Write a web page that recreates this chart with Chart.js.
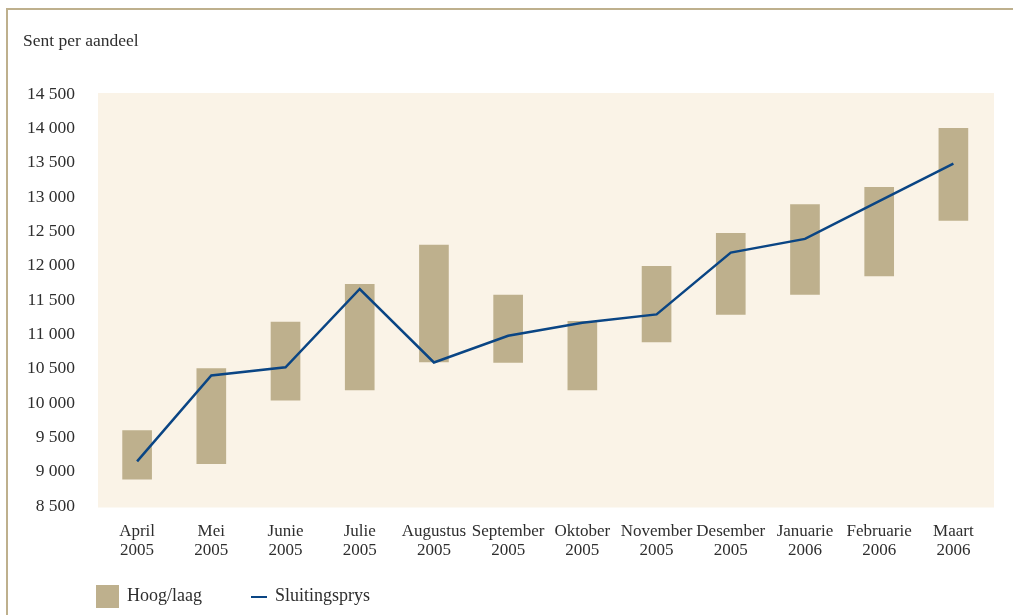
<!DOCTYPE html>
<html>
<head>
<meta charset="utf-8">
<script src="https://cdn.jsdelivr.net/npm/chart.js@4/dist/chart.umd.min.js"></script>
<style>
  html, body { margin: 0; padding: 0; background: #ffffff; }
  #wrap { position: relative; width: 1013px; height: 615px; }
</style>
</head>
<body>
<div id="wrap"><canvas id="c" width="1013" height="615"></canvas></div>
<script>
const months = [
  ["April", "2005"], ["Mei", "2005"], ["Junie", "2005"], ["Julie", "2005"],
  ["Augustus", "2005"], ["September", "2005"], ["Oktober", "2005"], ["November", "2005"],
  ["Desember", "2005"], ["Januarie", "2006"], ["Februarie", "2006"], ["Maart", "2006"]
];
const lows   = [8890, 9115, 10040, 10190, 10600, 10590, 10190, 10890, 11290, 11580, 11850, 12660];
const highs  = [9600, 10500, 11180, 11730, 12300, 11570, 11190, 11990, 12470, 12890, 13140, 14000];
const closes = [9150, 10400, 10520, 11660, 10590, 10980, 11170, 11290, 12190, 12390, 12940, 13485];
const yTicks = [8500, 9000, 9500, 10000, 10500, 11000, 11500, 12000, 12500, 13000, 13500, 14000, 14500];

const TAN = '#BEB08D';
const CREAM = '#FAF3E7';
const BLUE = '#0A4584';
const TEXT = '#2E2E2E';
const FONT = "'Liberation Serif', 'DejaVu Serif', serif";

const decor = {
  id: 'decor',
  beforeDraw(chart) {
    const ctx = chart.ctx, a = chart.chartArea;
    ctx.save();
    ctx.fillStyle = CREAM;
    ctx.fillRect(a.left - 2, a.top - 1, (a.right + 3.5) - (a.left - 2), (a.bottom + 1.5) - (a.top - 1));
    ctx.restore();
  },
  afterDraw(chart) {
    const ctx = chart.ctx;
    ctx.save();
    // frame lines
    ctx.strokeStyle = TAN;
    ctx.lineWidth = 2;
    ctx.beginPath();
    ctx.moveTo(1013, 9);
    ctx.lineTo(7, 9);
    ctx.lineTo(7, 615);
    ctx.stroke();
    // title
    ctx.fillStyle = TEXT;
    ctx.font = "17.5px " + FONT;
    ctx.textBaseline = 'alphabetic';
    ctx.textAlign = 'left';
    ctx.fillText('Sent per aandeel', 23, 46);
    // legend
    ctx.fillStyle = TAN;
    ctx.fillRect(96, 585, 23, 23);
    ctx.fillStyle = TEXT;
    ctx.font = "18px " + FONT;
    ctx.textBaseline = 'middle';
    ctx.fillText(chart.data.datasets[1].label, 127, 596.5);
    ctx.strokeStyle = BLUE;
    ctx.lineWidth = 2;
    ctx.beginPath();
    ctx.moveTo(251, 597);
    ctx.lineTo(267, 597);
    ctx.stroke();
    ctx.fillStyle = TEXT;
    ctx.fillText(chart.data.datasets[0].label, 275, 596.5);
    ctx.restore();
  }
};

new Chart(document.getElementById('c'), {
  data: {
    labels: months,
    datasets: [
      {
        type: 'line',
        label: 'Sluitingsprys',
        data: closes,
        borderColor: BLUE,
        borderWidth: 2.5,
        pointRadius: 0,
        tension: 0,
        order: 0
      },
      {
        type: 'bar',
        label: 'Hoog/laag',
        data: lows.map((l, i) => [l, highs[i]]),
        backgroundColor: TAN,
        borderWidth: 0,
        barThickness: 29,
        order: 1
      }
    ]
  },
  options: {
    responsive: false,
    animation: false,
    layout: { padding: { left: 0, top: 94, right: 22.5, bottom: 0 } },
    plugins: {
      legend: { display: false },
      tooltip: { enabled: false },
      title: { display: false }
    },
    scales: {
      x: {
        grid: { display: false, drawTicks: false },
        border: { display: false },
        ticks: {
          color: TEXT,
          font: { family: FONT, size: 17, lineHeight: 1.12 },
          padding: 16,
          maxRotation: 0,
          autoSkip: false
        },
        afterFit(s) { s.height = 109; }
      },
      y: {
        min: yTicks[0],
        max: yTicks[yTicks.length - 1],
        afterBuildTicks(s) { s.ticks = yTicks.map(v => ({ value: v })); },
        grid: { display: false, drawTicks: false },
        border: { display: false },
        ticks: {
          color: TEXT,
          font: { family: FONT, size: 17.5 },
          padding: 25,
          callback: v => String(v).replace(/\B(?=(\d{3})+(?!\d))/g, ' ')
        },
        afterFit(s) { s.width = 100; }
      }
    }
  },
  plugins: [decor]
});
</script>
</body>
</html>
